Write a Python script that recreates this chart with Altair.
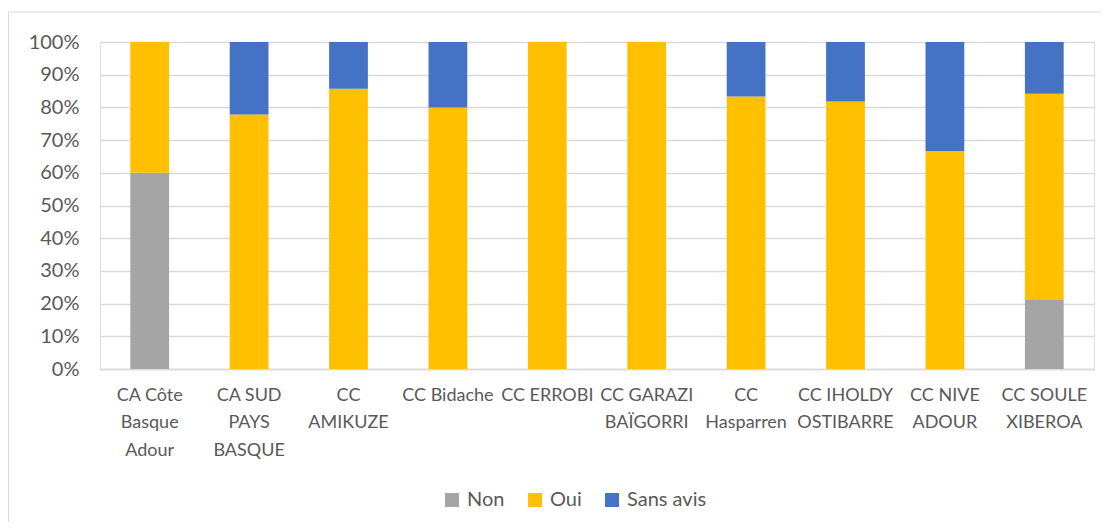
import altair as alt
import pandas as pd

categories = [
    "CA Côte Basque Adour", "CA SUD PAYS BASQUE", "CC AMIKUZE", "CC Bidache",
    "CC ERROBI", "CC GARAZI BAÏGORRI", "CC Hasparren", "CC IHOLDY OSTIBARRE",
    "CC NIVE ADOUR", "CC SOULE XIBEROA",
]
label_lines = [
    ["CA Côte", "Basque", "Adour"], ["CA SUD", "PAYS", "BASQUE"], ["CC", "AMIKUZE"],
    ["CC Bidache"], ["CC ERROBI"], ["CC GARAZI", "BAÏGORRI"], ["CC", "Hasparren"],
    ["CC IHOLDY", "OSTIBARRE"], ["CC NIVE", "ADOUR"], ["CC SOULE", "XIBEROA"],
]
series = ["Non", "Oui", "Sans avis"]
colors = ["#A5A5A5", "#FFC000", "#4472C4"]
non = [60.0, 0, 0, 0, 0, 0, 0, 0, 0, 21.1]
oui = [40.0, 77.8, 85.7, 80.0, 100.0, 100.0, 83.3, 81.8, 66.7, 63.1]
sans_avis = [0, 22.2, 14.3, 20.0, 0, 0, 16.7, 18.2, 33.3, 15.8]

rows = []
for i, c in enumerate(categories):
    for j, (s, vals) in enumerate(zip(series, [non, oui, sans_avis])):
        rows.append({"cat": c, "serie": s, "order": j, "value": vals[i] / 100})
df = pd.DataFrame(rows)

label_map = "{" + ",".join(
    "'%s':[%s]" % (c, ",".join("'%s'" % l for l in ls)) for c, ls in zip(categories, label_lines)
) + "}"

FONT = "Lato"
TXT = "#595959"

bars = alt.Chart(df).mark_bar().encode(
    x=alt.X("cat:N", sort=categories,
            scale=alt.Scale(paddingInner=0.61, paddingOuter=0.305),
            axis=alt.Axis(title=None, labelAngle=0, ticks=False, domain=True,
                          domainColor="#D9D9D9", domainWidth=1.5,
                          labelExpr=label_map + "[datum.label]",
                          labelFont=FONT, labelFontSize=18, labelColor=TXT,
                          labelLineHeight=27.5, labelPadding=17, labelBaseline="top")),
    y=alt.Y("value:Q", stack="zero",
            scale=alt.Scale(domain=[0, 1], nice=False),
            axis=alt.Axis(title=None, format=".0%", values=[i / 10 for i in range(11)],
                          ticks=False, domain=False, grid=True, gridColor="#D9D9D9",
                          gridWidth=1.5, labelFont=FONT, labelFontSize=20,
                          labelColor=TXT, labelPadding=21)),
    color=alt.Color("serie:N", sort=series,
                    scale=alt.Scale(domain=series, range=colors),
                    legend=alt.Legend(title=None, orient="none", legendX=342, legendY=448,
                                      direction="horizontal", symbolType="square",
                                      symbolSize=196, symbolStrokeWidth=0,
                                      labelFont=FONT, labelFontSize=20, labelColor=TXT,
                                      labelOffset=5, columnPadding=20)),
    order=alt.Order("order:Q"),
)

frame = alt.Chart(pd.DataFrame({"a": [0]})).mark_rect(
    fill=None, stroke="#D9D9D9", strokeWidth=1
).encode(x=alt.value(-91.5), x2=alt.value(1100), y=alt.value(-30), y2=alt.value(600))

chart = alt.layer(frame, bars).properties(
    width=994, height=327,
    padding={"left": 92, "top": 34, "right": 7, "bottom": 153},
    autosize=alt.AutoSizeParams(type="none"),
).configure_view(stroke=None).configure(background="white")

chart.save("out.html", embed_options={"renderer": "svg", "actions": False})
